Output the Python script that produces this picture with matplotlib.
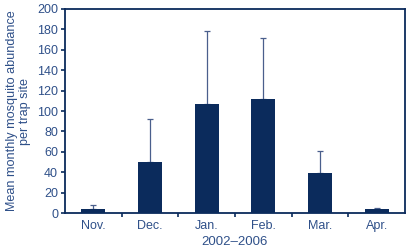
import matplotlib
matplotlib.use("Agg")
import matplotlib.pyplot as plt
import numpy as np

months = ["Nov.", "Dec.", "Jan.", "Feb.", "Mar.", "Apr."]
means = [3.5, 50, 107, 112, 39, 3.5]
upper_err = [4.5, 42, 71, 60, 22, 1.5]
yticks = [0, 20, 40, 60, 80, 100, 120, 140, 160, 180, 200]

navy = "#0b2b5c"
txt = "#2f5089"
plt.rcParams['font.family'] = ['Liberation Sans', 'DejaVu Sans']

fig = plt.figure(figsize=(4.13, 2.47), dpi=100)
ax = fig.add_axes([65/413, 1 - 213/247, 340/413, 204/247])
x = np.arange(len(months))
ax.bar(x, means, width=0.42, color=navy, zorder=3)
ax.errorbar(x, means, yerr=[np.zeros(len(means)), upper_err], fmt='none',
            ecolor="#4a5f8c", elinewidth=0.9, capsize=2, capthick=0.9, zorder=2)
ax.set_xlim(-0.5, 5.5)
ax.set_ylim(0, 200)
ax.set_yticks(yticks)
ax.set_xticks(x)
ax.set_xticklabels(months)
ax.set_xticks(np.arange(0.5, 5.5, 1), minor=True)
for s in ax.spines.values():
    s.set_color(navy)
    s.set_linewidth(1.3)
ax.tick_params(axis='both', which='both', colors=navy, labelcolor=txt, labelsize=9, direction='out', width=1.2)
ax.tick_params(axis='y', length=3, pad=2)
ax.tick_params(axis='x', which='major', length=0, pad=5)
ax.tick_params(axis='x', which='minor', length=3)
ax.set_ylabel("Mean monthly mosquito abundance\nper trap site", color=txt, fontsize=9.1,
              labelpad=4, multialignment='center', linespacing=1.2)
ax.set_xlabel("2002–2006", color=txt, fontsize=9.5, labelpad=3)
fig.savefig("out.png", dpi=100)
